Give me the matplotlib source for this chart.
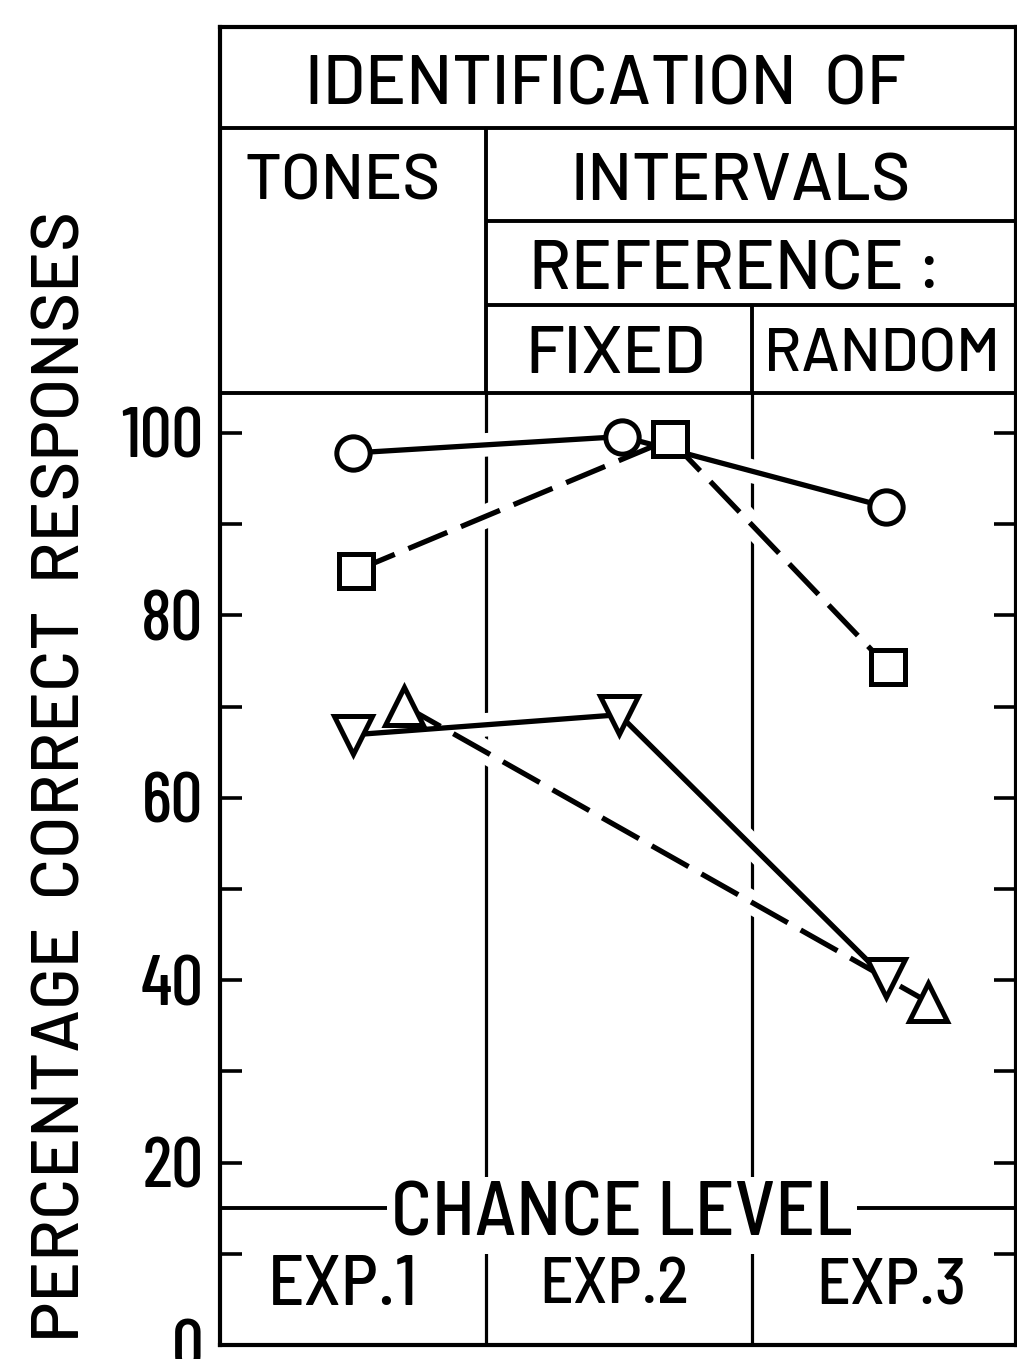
import matplotlib

matplotlib.use("Agg")
import matplotlib.pyplot as plt

# percentage correct responses
exp_labels = ["EXP.1", "EXP.2", "EXP.3"]
# circles / down-triangles joined by solid lines, squares / up-triangles by dashed
circle_x = [0.50, 1.51, 2.50]
circle_y = [97.8, 99.6, 91.9]
square_x = [0.51, 1.69, 2.51]
square_y = [84.9, 99.3, 74.3]
tri_down_x = [0.50, 1.50, 2.50]
tri_down_y = [66.9, 69.1, 40.2]
tri_up_x = [0.69, 2.66]
tri_up_y = [70.1, 37.6]
chance_level = 15.0

# header table rows (in y-data units above the 0-100 scale)
HEAD_BOT, REF_LINE, INT_LINE, ID_LINE, TOP = 104.4, 114.0, 123.2, 133.4, 144.5
XMAX = 2.99  # the right border sits right at the picture's edge

PLAIN = ["Barlow", "Liberation Sans"]
SEMI = ["Barlow Semi Condensed", "Liberation Sans"]
NARROW = ["Barlow Condensed", "Liberation Sans"]
plt.rcParams["font.weight"] = 500  # stencil lettering is a bit heavy

fig = plt.figure(figsize=(10.17, 13.59), dpi=100)
ax = fig.add_axes([220 / 1017, 14 / 1359, 796 / 1017, 1318 / 1359])
ax.set_xlim(0, XMAX)
ax.set_ylim(0, TOP)
for s in ax.spines.values():
    s.set_linewidth(3)
ax.set_xticks([])
ax.set_yticks(range(0, 101, 20))
ax.set_yticks(range(10, 100, 20), minor=True)
ax.tick_params(axis="y", which="both", direction="in", length=16, width=2.6,
               left=True, right=True)
ax.tick_params(axis="y", which="major", labelsize=51, pad=12)
for lab in ax.get_yticklabels():
    lab.set_fontfamily(NARROW)

# frame of the header table and the experiment columns
LW = 2.8
ax.hlines([HEAD_BOT, ID_LINE], 0, XMAX, color="k", lw=LW, zorder=1)
ax.hlines([INT_LINE, REF_LINE], 1, XMAX, color="k", lw=LW, zorder=1)
ax.vlines(1, HEAD_BOT, ID_LINE, color="k", lw=LW, zorder=1)
ax.vlines(2, HEAD_BOT, REF_LINE, color="k", lw=LW, zorder=1)
ax.vlines([1, 2], 0, HEAD_BOT, color="k", lw=2.3, zorder=1)
ax.hlines(chance_level, 0, XMAX, color="k", lw=LW, zorder=1)

# data lines: white halo first so the column dividers break where they cross
series = [
    (circle_x, circle_y, "-", "o", 24),
    (square_x, square_y, (0, (8, 2.8)), "s", 24),
    (tri_down_x, tri_down_y, "-", "v", 27),
    (tri_up_x, tri_up_y, (0, (8, 2.8)), "^", 27),
]
for xs, ys, ls, m, ms in series:
    ax.plot(xs, ys, color="white", lw=17, zorder=1.5, solid_capstyle="butt")
for xs, ys, ls, m, ms in series:
    ax.plot(xs, ys, color="k", lw=3.8, ls=ls, zorder=2, dash_capstyle="butt")
for xs, ys, ls, m, ms in series:
    ax.plot(xs, ys, ls="none", marker=m, ms=ms, mfc="white", mec="k", mew=3.6,
            zorder=3)

renderer = fig.canvas.get_renderer()


def fit(t, length_px, vertical=False):
    """scale a text's font size so its drawn length is length_px"""
    bb = t.get_window_extent(renderer)
    t.set_fontsize(t.get_fontsize() * length_px / (bb.height if vertical else bb.width))
    return t


# header text, widths measured on the original lettering
hkw = dict(ha="center", va="center_baseline", fontsize=40, family=PLAIN)
fit(ax.text(1.446, 138.7, "IDENTIFICATION  OF", **hkw), 600)
fit(ax.text(0.462, 128.1, "TONES", **hkw), 196)
fit(ax.text(1.956, 128.1, "INTERVALS", **hkw), 340)
fit(ax.text(1.934, 118.4, "REFERENCE :", **hkw), 412)
fit(ax.text(1.487, 109.1, "FIXED", **hkw), 180)
fit(ax.text(2.485, 109.1, "RANDOM", **hkw), 236)

fit(ax.text(1.51, chance_level, "CHANCE LEVEL", ha="center",
            va="center_baseline", fontsize=40, family=SEMI, zorder=4,
            bbox=dict(facecolor="white", edgecolor="none", pad=2)), 462)
for xc, lab in zip([0.46, 1.48, 2.52], exp_labels):
    fit(ax.text(xc, 7.1, lab, ha="center", va="center_baseline", fontsize=40,
                family=SEMI, zorder=5), 150)

fit(fig.text(56 / 1017, 1 - 776 / 1359, "PERCENTAGE  CORRECT  RESPONSES",
             rotation=90, rotation_mode="anchor", ha="center",
             va="center_baseline", fontsize=40, family=PLAIN), 1130,
    vertical=True)

fig.savefig("out.png", dpi=100)
